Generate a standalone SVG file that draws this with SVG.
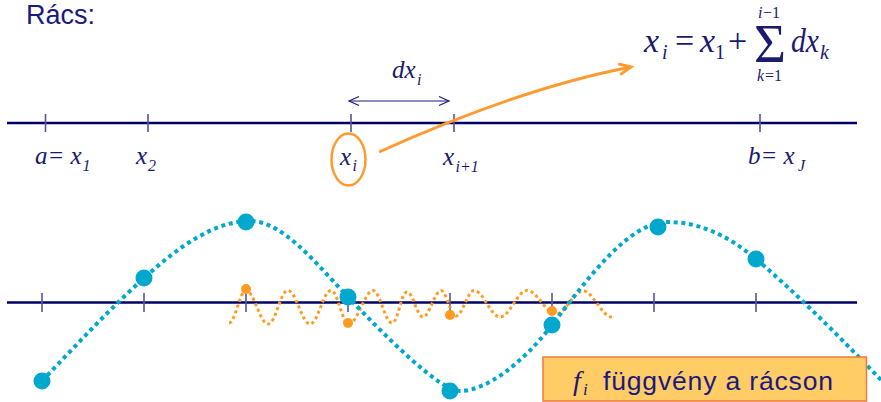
<svg xmlns="http://www.w3.org/2000/svg" width="881" height="402" viewBox="0 0 881 402">
<defs>
<style>
.axis{stroke:#000066;stroke-width:2.3;fill:none}
.tick{stroke:#555599;stroke-width:1.6}
.m{font-family:"Liberation Serif","Times New Roman",serif;font-style:italic;fill:#1A1A6E}
.r{font-family:"Liberation Serif","Times New Roman",serif;fill:#1A1A6E}
.s{font-family:"Liberation Sans",Arial,sans-serif;fill:#1A1A80}
.blue{stroke:#00A8CE;stroke-width:4;stroke-dasharray:4 3.7;fill:none}
.orng{stroke:#FF9B21;stroke-width:3;stroke-dasharray:3 3;fill:none}
.bdot{fill:#00A8CE}
.odot{fill:#FF9B21}
</style>
<marker id="oh" markerUnits="userSpaceOnUse" markerWidth="18" markerHeight="16" refX="13" refY="7" orient="auto">
<path d="M1,1.5 L13,7 L1,12.5" fill="none" stroke="#FF9A2E" stroke-width="3"/>
</marker>
<marker id="nh" markerUnits="userSpaceOnUse" markerWidth="14" markerHeight="12" refX="11" refY="6" orient="auto-start-reverse">
<path d="M1,1.5 L11,6 L1,10.5" fill="none" stroke="#1A1A80" stroke-width="1.2"/>
</marker>
</defs>
<rect width="881" height="402" fill="#FFFFFF"/>
<g id="title"><text class="s" x="26" y="24" font-size="27">Rács:</text></g>
<g id="grid-axis">
<line class="axis" x1="7" y1="123" x2="857" y2="123"/>
<line class="tick" x1="45.5" y1="114" x2="45.5" y2="132"/>
<line class="tick" x1="148" y1="114" x2="148" y2="132"/>
<line class="tick" x1="351" y1="114" x2="351" y2="132"/>
<line class="tick" x1="454" y1="114" x2="454" y2="132"/>
<line class="tick" x1="760" y1="114" x2="760" y2="132"/>
</g>
<g id="labels">
<text class="m" x="35" y="164" font-size="25">a= x</text>
<text class="m" x="82.5" y="171" font-size="16">1</text>
<text class="m" x="136" y="164" font-size="25">x</text>
<text class="m" x="148" y="171" font-size="16">2</text>
<text class="m" x="340" y="165" font-size="25">x</text>
<text class="m" x="352.5" y="171" font-size="16">i</text>
<text class="m" x="443" y="165" font-size="25">x</text>
<text class="m" x="455.5" y="172" font-size="16">i+1</text>
<text class="m" x="748" y="164" font-size="25">b= x</text>
<text class="m" x="798" y="171" font-size="16">J</text>
</g>
<g id="xi-mark"><ellipse cx="348.5" cy="159.5" rx="17" ry="26" fill="none" stroke="#FF9A2E" stroke-width="2.5"/></g>
<g id="dx-label">
<text class="m" x="392" y="78" font-size="25">dx</text>
<text class="m" x="417" y="85" font-size="16">i</text>
</g>
<g id="formula">
<text class="m" x="644" y="52" font-size="34">x</text>
<text class="m" x="662" y="59" font-size="20">i</text>
<text class="r" x="675" y="52" font-size="34">=</text>
<text class="m" x="700" y="52" font-size="34">x</text>
<text class="r" x="715" y="59" font-size="20">1</text>
<text class="r" x="728" y="52" font-size="34">+</text>
<text class="r" x="754" y="62" font-size="55" textLength="32" lengthAdjust="spacingAndGlyphs">Σ</text>
<text class="m" x="758" y="18" font-size="16">i</text>
<text class="r" x="763" y="18" font-size="16">−1</text>
<text class="m" x="757" y="81" font-size="16">k</text>
<text class="r" x="765" y="81" font-size="16">=1</text>
<text class="m" x="791" y="52" font-size="34" textLength="28" lengthAdjust="spacingAndGlyphs">dx</text>
<text class="m" x="820" y="59" font-size="20">k</text>
</g>
<g id="connectors">
<line x1="349" y1="101" x2="449" y2="101" stroke="#1A1A80" stroke-width="1.2" marker-start="url(#nh)" marker-end="url(#nh)"/>
<path d="M379,152 Q521,88 631,67" fill="none" stroke="#FF9A2E" stroke-width="3" marker-end="url(#oh)"/>
</g>
<g id="function-axis">
<line class="axis" x1="7" y1="302.5" x2="857" y2="302.5"/>
<line class="tick" x1="42" y1="293" x2="42" y2="312"/>
<line class="tick" x1="144" y1="293" x2="144" y2="312"/>
<line class="tick" x1="246" y1="290" x2="246" y2="312"/>
<line class="tick" x1="348" y1="293" x2="348" y2="312"/>
<line class="tick" x1="450" y1="293" x2="450" y2="312"/>
<line class="tick" x1="552" y1="293" x2="552" y2="312"/>
<line class="tick" x1="654" y1="293" x2="654" y2="312"/>
<line class="tick" x1="756" y1="293" x2="756" y2="312"/>
</g>
<g id="fast-wave">
<path class="orng" d="M229,323 C235,323 240,290.5 246,290.5 C254,290.5 260,324 268,324 C276,324 280,290.5 288,290.5 C296,290.5 302,324 310,324 C318,324 323,290.5 331,290.5 C338,290.5 342,324 349,324 C357,324 365,290.5 373,290.5 C380,290.5 385,323 392,323 C398,323 401,292 407,292 C413,292 417,317 423,317 C429,317 435,290.5 441,290.5 C446.4,290.5 450.6,316 456,316 C462.5,316 467.5,290.5 474,290.5 C483.4,290.5 490.6,317 500,317 C509.7,317 517.3,290.5 527,290.5 C537.4,290.5 545.6,314 556,314 C565.7,314 573.3,291 583,291 C593.4,291 601.6,317 612,317"/>
<circle class="odot" cx="246" cy="289" r="5"/>
<circle class="odot" cx="348" cy="323" r="5"/>
<circle class="odot" cx="450" cy="315" r="5"/>
<circle class="odot" cx="552" cy="311" r="5"/>
</g>
<g id="slow-wave">
<path class="blue" d="M42,381 C76,345.3 110,308.6 144,278 C179.3,246.2 214.7,221 250,221 C282.7,221 315.3,262.7 348,297 C385.3,336.2 440,391 460,391 C485,391 521.3,364.9 552,325 C590.7,274.7 629.3,222 668,222 C697.3,222 726.7,234.1 756,259 C797.7,294.4 839.3,336.6 881,380"/>
<circle class="bdot" cx="42" cy="381" r="8.5"/>
<circle class="bdot" cx="144" cy="278" r="8.5"/>
<circle class="bdot" cx="246" cy="222" r="8.5"/>
<circle class="bdot" cx="348" cy="297" r="8.5"/>
<circle class="bdot" cx="450" cy="391" r="8.5"/>
<circle class="bdot" cx="552" cy="325" r="8.5"/>
<circle class="bdot" cx="658" cy="227" r="8.5"/>
<circle class="bdot" cx="756" cy="259" r="8.5"/>
</g>
<g id="caption">
<rect x="543" y="357" width="323.5" height="44" fill="#FFCC66" stroke="#F07A3C" stroke-width="1.5"/>
<text class="m" x="573" y="390" font-size="28" fill="#1A1A6E">f</text>
<text class="m" x="583" y="395" font-size="17">i</text>
<text class="s" x="603" y="390" font-size="26.5" textLength="230" lengthAdjust="spacing" fill="#141470">függvény a rácson</text>
</g>
</svg>
